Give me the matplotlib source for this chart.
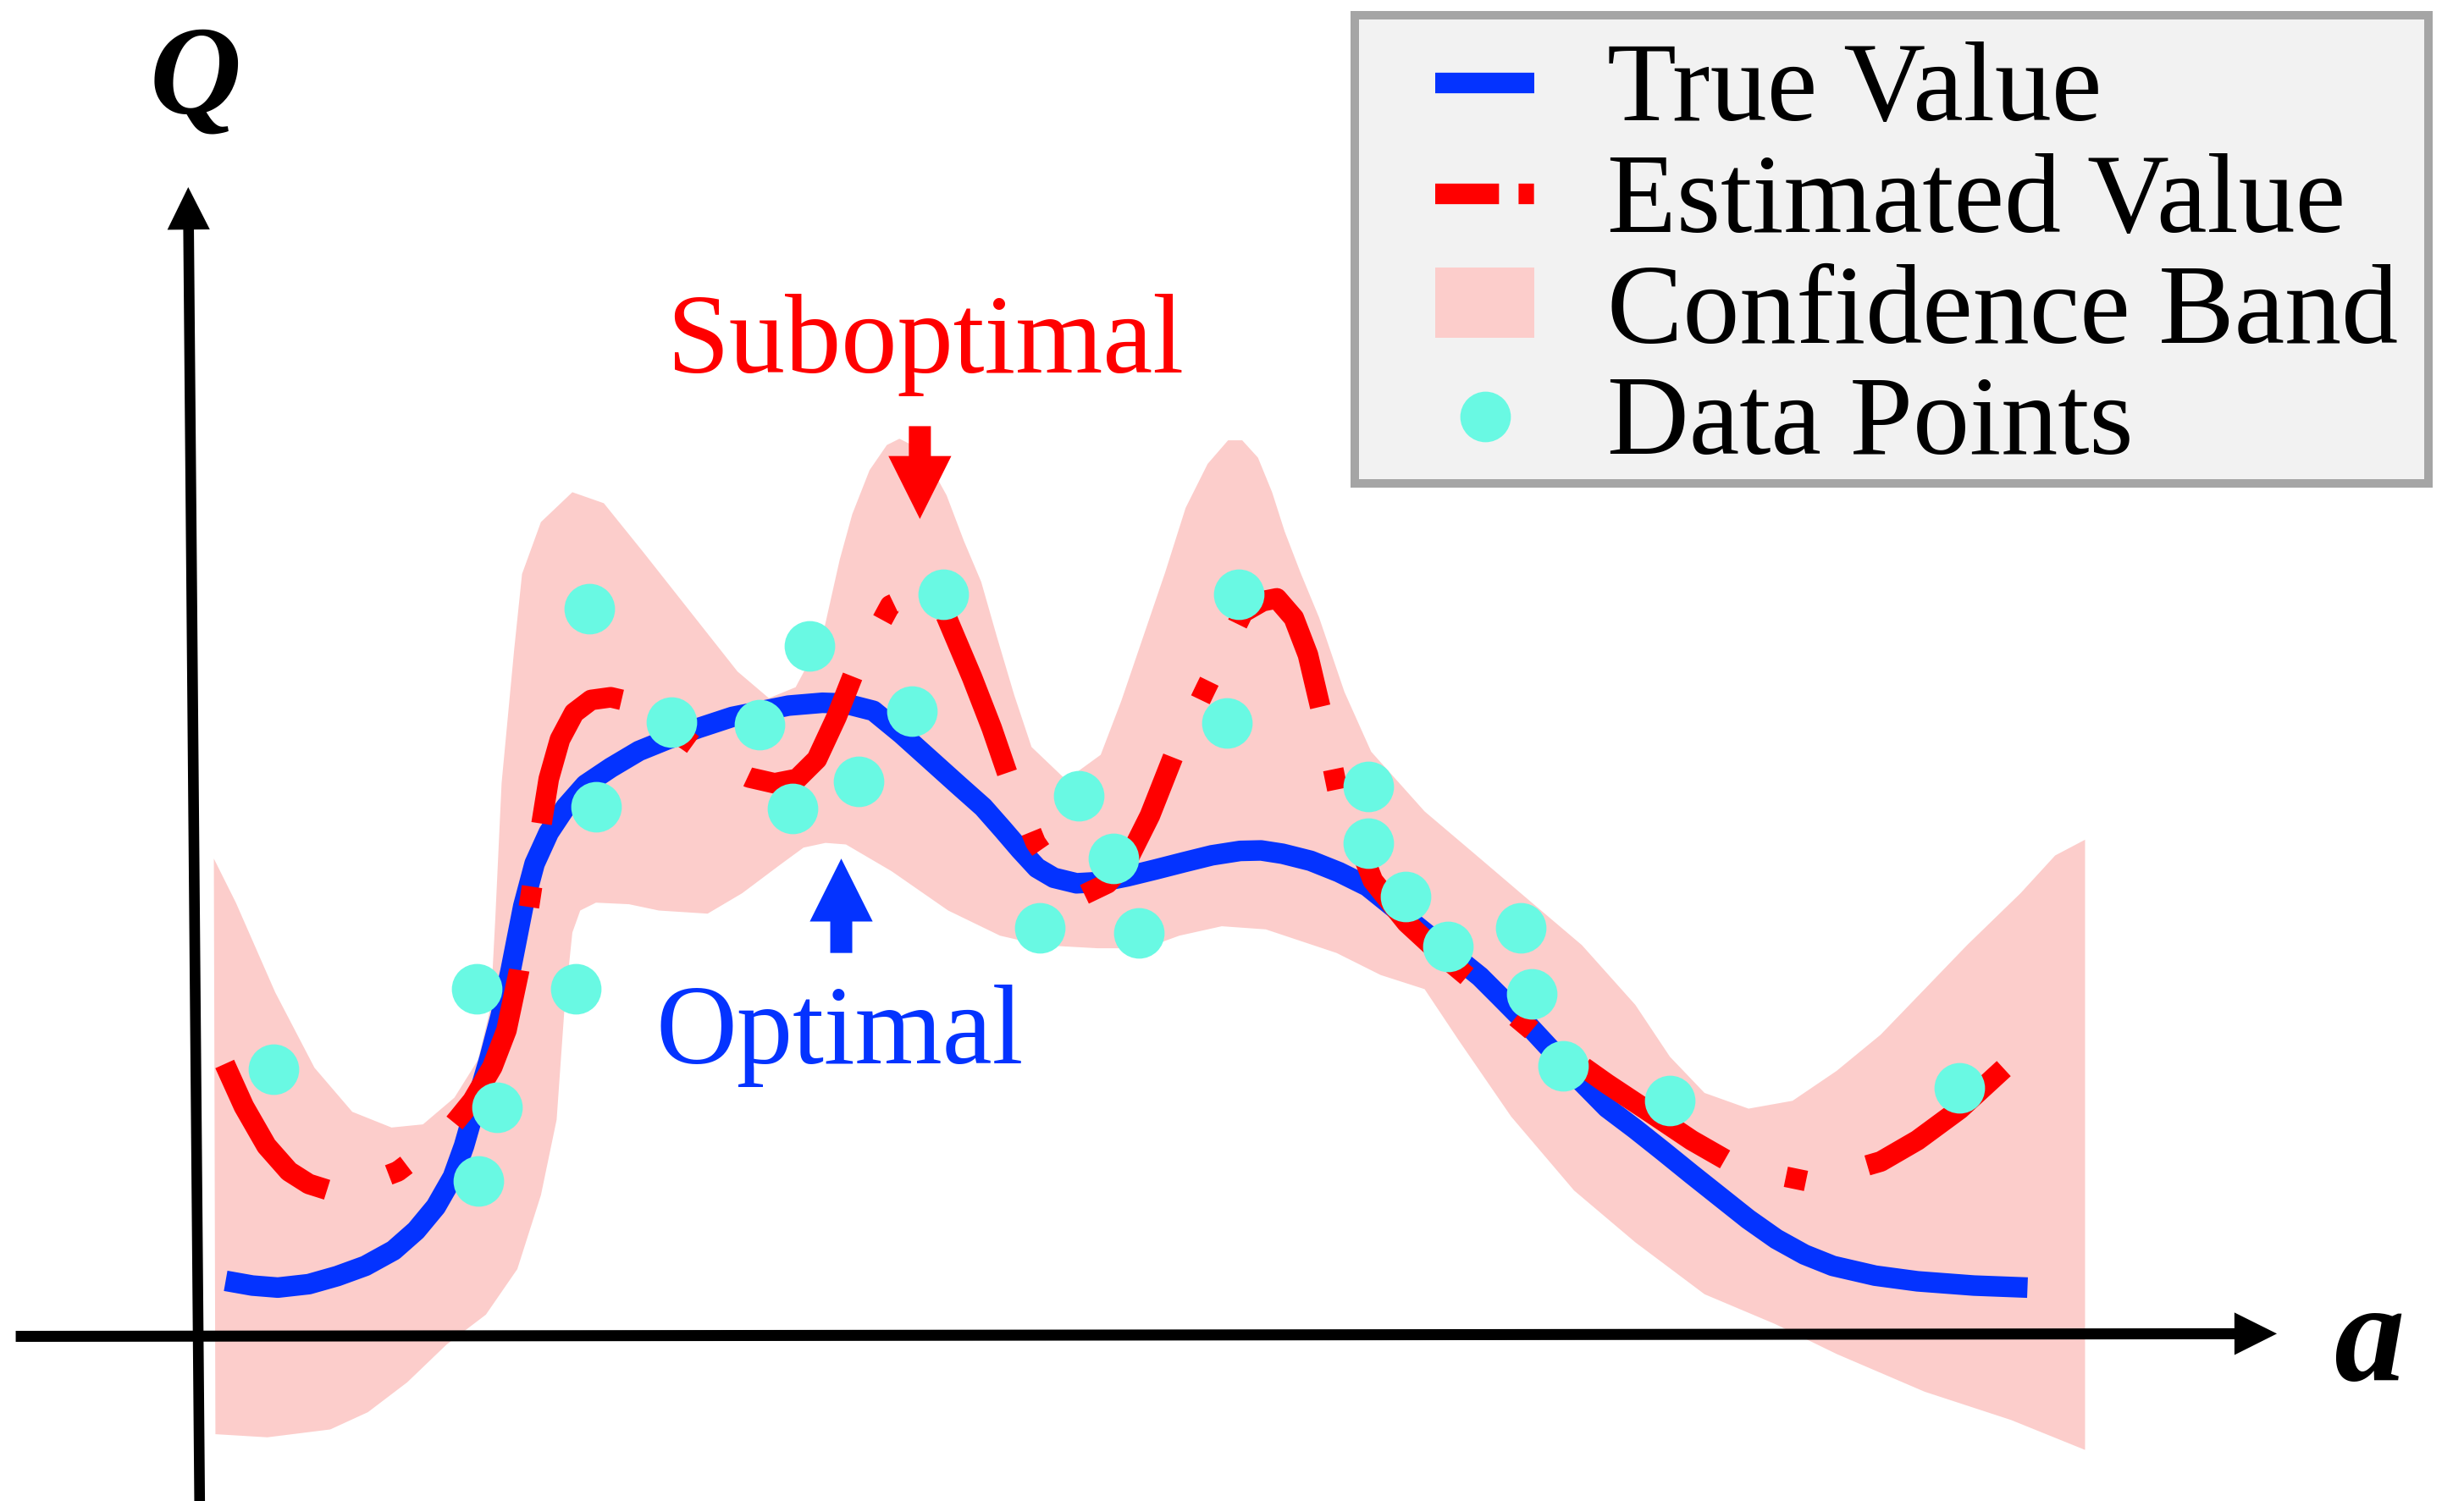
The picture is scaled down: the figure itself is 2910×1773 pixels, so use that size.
import matplotlib.pyplot as plt
from matplotlib.lines import Line2D
from matplotlib.patches import Rectangle

# Colours
c_true = "#0433FF"
c_est = "#FF0000"
c_band = "#FCCDCB"
c_pts = "#69F9E3"

legend_labels = ["True Value", "Estimated Value", "Confidence Band", "Data Points"]

# True value curve
true_a = [0.165, 0.335, 0.497, 0.694, 0.874, 1.053, 1.233, 1.376, 1.502, 1.610, 1.681,
          1.753, 1.843, 1.914, 1.977, 2.058, 2.130, 2.220, 2.327, 2.453, 2.614, 2.794,
          2.974, 3.171, 3.387, 3.566, 3.745, 3.960, 4.104, 4.284, 4.463, 4.642, 4.822,
          4.983, 5.109, 5.217, 5.325, 5.432, 5.576, 5.719, 5.899, 6.079, 6.259, 6.437,
          6.617, 6.750, 6.886, 7.065, 7.245, 7.425, 7.604, 7.783, 7.963, 8.142, 8.268,
          8.450, 8.700, 8.950, 9.129, 9.309, 9.488, 9.668, 9.848, 10.027, 10.206, 10.386,
          10.655, 10.924, 11.283, 11.624]
true_q = [0.355, 0.325, 0.312, 0.334, 0.385, 0.450, 0.549, 0.675, 0.827, 1.016, 1.213,
          1.464, 1.770, 2.039, 2.326, 2.738, 3.008, 3.206, 3.367, 3.510, 3.618, 3.725,
          3.798, 3.870, 3.941, 3.977, 4.013, 4.031, 4.026, 3.980, 3.833, 3.672, 3.510,
          3.367, 3.224, 3.098, 2.981, 2.918, 2.883, 2.891, 2.927, 2.971, 3.017, 3.061,
          3.089, 3.092, 3.071, 3.026, 2.954, 2.865, 2.721, 2.577, 2.434, 2.290, 2.164,
          1.980, 1.710, 1.456, 1.321, 1.178, 1.033, 0.890, 0.747, 0.621, 0.522, 0.450,
          0.388, 0.352, 0.325, 0.312]

# Estimated value curve
est_a = [0.159, 0.281, 0.425, 0.568, 0.694, 0.811, 1.030, 1.260, 1.450, 1.618, 1.735,
         1.861, 1.951, 2.031, 2.103, 2.175, 2.220, 2.291, 2.381, 2.489, 2.614, 2.687,
         2.900, 3.117, 3.300, 3.494, 3.656, 3.799, 3.925, 4.050, 4.167, 4.391, 4.570,
         4.741, 4.912, 5.037, 5.136, 5.316, 5.470, 5.621, 5.773, 5.899, 6.043, 6.195,
         6.398, 6.635, 6.760, 6.850, 6.958, 7.048, 7.137, 7.236, 7.461, 7.676, 7.891,
         8.106, 8.480, 8.950, 9.220, 9.488, 9.785, 10.246, 10.691, 10.924, 11.193, 11.544]
est_q = [1.734, 1.464, 1.213, 1.051, 0.971, 0.934, 0.963, 1.051, 1.195, 1.356, 1.500,
         1.715, 1.949, 2.326, 2.793, 3.268, 3.547, 3.798, 3.967, 4.049, 4.066, 4.049,
         3.929, 3.780, 3.647, 3.556, 3.519, 3.547, 3.672, 3.941, 4.237, 4.650, 4.736,
         4.596, 4.192, 3.870, 3.582, 3.142, 2.920, 2.810, 2.883, 3.026, 3.314, 3.699,
         4.121, 4.605, 4.677, 4.695, 4.570, 4.336, 3.959, 3.475, 2.900, 2.632, 2.434,
         2.254, 1.941, 1.608, 1.429, 1.249, 1.079, 0.984, 1.114, 1.249, 1.447, 1.770]

# Confidence band, upper and lower edges
band_up_a = [0.09, 0.23, 0.48, 0.73, 0.97, 1.22, 1.42, 1.62, 1.77, 1.85, 1.88, 1.92, 2.00,
             2.05, 2.17, 2.37, 2.57, 2.82, 3.12, 3.42, 3.62, 3.79, 3.96, 4.07, 4.15, 4.26,
             4.37, 4.45, 4.53, 4.64, 4.75, 4.86, 4.97, 5.07, 5.18, 5.29, 5.51, 5.73, 5.86,
             6.00, 6.14, 6.27, 6.41, 6.54, 6.63, 6.73, 6.82, 6.90, 7.00, 7.12, 7.28, 7.45,
             7.79, 8.12, 8.46, 8.79, 9.13, 9.35, 9.57, 9.85, 10.13, 10.41, 10.69, 10.97,
             11.24, 11.58, 11.80, 11.99]
band_up_q = [3.04, 2.76, 2.19, 1.71, 1.43, 1.33, 1.35, 1.52, 1.76, 2.09, 2.66, 3.52, 4.37,
             4.85, 5.18, 5.37, 5.30, 4.99, 4.61, 4.23, 4.06, 4.13, 4.45, 4.94, 5.23, 5.51,
             5.67, 5.71, 5.67, 5.55, 5.35, 5.06, 4.80, 4.45, 4.08, 3.75, 3.54, 3.70, 4.04,
             4.45, 4.86, 5.27, 5.55, 5.70, 5.70, 5.59, 5.37, 5.12, 4.86, 4.57, 4.10, 3.72,
             3.34, 3.06, 2.77, 2.49, 2.11, 1.78, 1.55, 1.45, 1.50, 1.69, 1.92, 2.21,
             2.49, 2.82, 3.06, 3.16]
band_lo_a = [0.10, 0.43, 0.83, 1.07, 1.32, 1.57, 1.82, 2.02, 2.17, 2.27, 2.32, 2.37, 2.42,
             2.52, 2.73, 2.92, 3.23, 3.45, 3.69, 3.84, 3.98, 4.11, 4.40, 4.76, 5.09, 5.35,
             5.71, 6.01, 6.23, 6.50, 6.78, 7.23, 7.51, 7.79, 8.01, 8.34, 8.74, 9.13, 9.57,
             10.02, 10.41, 10.97, 11.52, 11.99]
band_lo_q = [-0.62, -0.64, -0.59, -0.48, -0.29, -0.05, 0.14, 0.43, 0.90, 1.38, 2.09, 2.57,
             2.71, 2.76, 2.75, 2.71, 2.69, 2.82, 3.00, 3.11, 3.14, 3.13, 2.96, 2.71, 2.55,
             2.49, 2.47, 2.47, 2.55, 2.61, 2.59, 2.44, 2.30, 2.21, 1.88, 1.40, 0.93, 0.60,
             0.27, 0.08, -0.11, -0.35, -0.53, -0.72]

# Data points
pts_a = [0.47, 1.76, 1.89, 1.77, 2.39, 2.48, 2.52, 3.00, 3.56, 3.77, 3.88, 4.19, 4.53,
         4.73, 5.34, 5.59, 5.81, 5.97, 6.53, 6.61, 7.43, 7.43, 7.67, 7.94, 8.40, 8.47,
         8.67, 9.35, 11.19]
pts_q = [1.70, 2.21, 1.46, 0.99, 2.21, 4.63, 3.37, 3.91, 3.89, 3.36, 4.39, 3.53, 3.98,
         4.72, 2.60, 3.44, 3.04, 2.57, 3.90, 4.72, 3.50, 3.14, 2.80, 2.48, 2.60, 2.18,
         1.72, 1.50, 1.58]

plt.rcParams["font.family"] = ["Liberation Serif", "DejaVu Serif"]

fig = plt.figure(figsize=(29.1, 17.73), dpi=100)
ax = fig.add_axes([0, 0, 1, 1])
ax.set_xlim(-1.27, 14.40)
ax.set_ylim(-1.045, 8.50)
ax.axis("off")
ax.patch.set_visible(False)

band = ax.fill(band_up_a + band_lo_a[::-1], band_up_q + band_lo_q[::-1],
               color=c_band, lw=0, zorder=1)[0]
true_line, = ax.plot(true_a, true_q, color=c_true, lw=17.5,
                     solid_capstyle="butt", solid_joinstyle="round", zorder=2)
est_line, = ax.plot(est_a, est_q, color=c_est, lw=17.5,
                    linestyle=(0, (8.2, 3.1, 1.0, 3.1)),
                    dash_capstyle="butt", dash_joinstyle="round", zorder=3)
pts, = ax.plot(pts_a, pts_q, "o", ms=43, mew=0, color=c_pts, zorder=4)

# Hand-drawn axes
ax.arrow(-1.17, 0.002, 14.38, 0.017, width=0.07, head_width=0.27, head_length=0.27,
         length_includes_head=True, color="k", lw=0, zorder=5)
ax.arrow(0.0, -1.10, -0.073, 8.41, width=0.068, head_width=0.27, head_length=0.27,
         length_includes_head=True, color="k", lw=0, zorder=5)
ax.text(-0.32, 7.78, "Q", fontsize=108, fontweight="bold", fontstyle="italic",
        ha="left", va="baseline")
ax.text(13.57, -0.276, "a", fontsize=120, fontweight="bold", fontstyle="italic",
        ha="left", va="baseline")

# Annotations
ax.arrow(4.58, 5.79, 0, -0.59, width=0.14, head_width=0.40, head_length=0.40,
         length_includes_head=True, color=c_est, lw=0, zorder=5)
ax.text(2.97, 6.13, "Suboptimal", color=c_est, fontsize=95.5, ha="left", va="baseline")
ax.arrow(4.08, 2.44, 0, 0.60, width=0.14, head_width=0.40, head_length=0.40,
         length_includes_head=True, color=c_true, lw=0, zorder=5)
ax.text(2.90, 1.74, "Optimal", color=c_true, fontsize=95.5, ha="left", va="baseline")

# Legend: content placed first, frame drawn round it with uneven padding
leg_fs = 96.5
red_handle = Line2D([], [], color=c_est, lw=17.5, linestyle=(0, (3.1, 0.95, 0.75, 5)),
                    dash_capstyle="butt")
leg = ax.legend([true_line, red_handle, band, pts], legend_labels,
                loc="upper right", bbox_to_anchor=(0.9732, 0.9723),
                bbox_transform=fig.transFigure, fontsize=leg_fs, numpoints=1,
                handlelength=0.873, handleheight=0.58, handletextpad=0.64,
                borderpad=0, labelspacing=0.078, borderaxespad=0, frameon=False)
leg.set_zorder(6)

fig.canvas.draw()
bb = leg.get_window_extent().transformed(fig.transFigure.inverted())
em_x = leg_fs * fig.dpi / 72 / fig.bbox.width
em_y = leg_fs * fig.dpi / 72 / fig.bbox.height
x0 = bb.x0 - 0.712 * em_x
x1 = bb.x1 + 0.267 * em_x
y0 = bb.y0 - 0.046 * em_y
y1 = bb.y1 + 0.232 * em_y
ax.add_patch(Rectangle((x0, y0), x1 - x0, y1 - y0, transform=fig.transFigure,
                       facecolor="#F2F2F2", edgecolor="#A5A5A5", lw=7.2, zorder=5.5))

fig.savefig("out.png", dpi=100)
